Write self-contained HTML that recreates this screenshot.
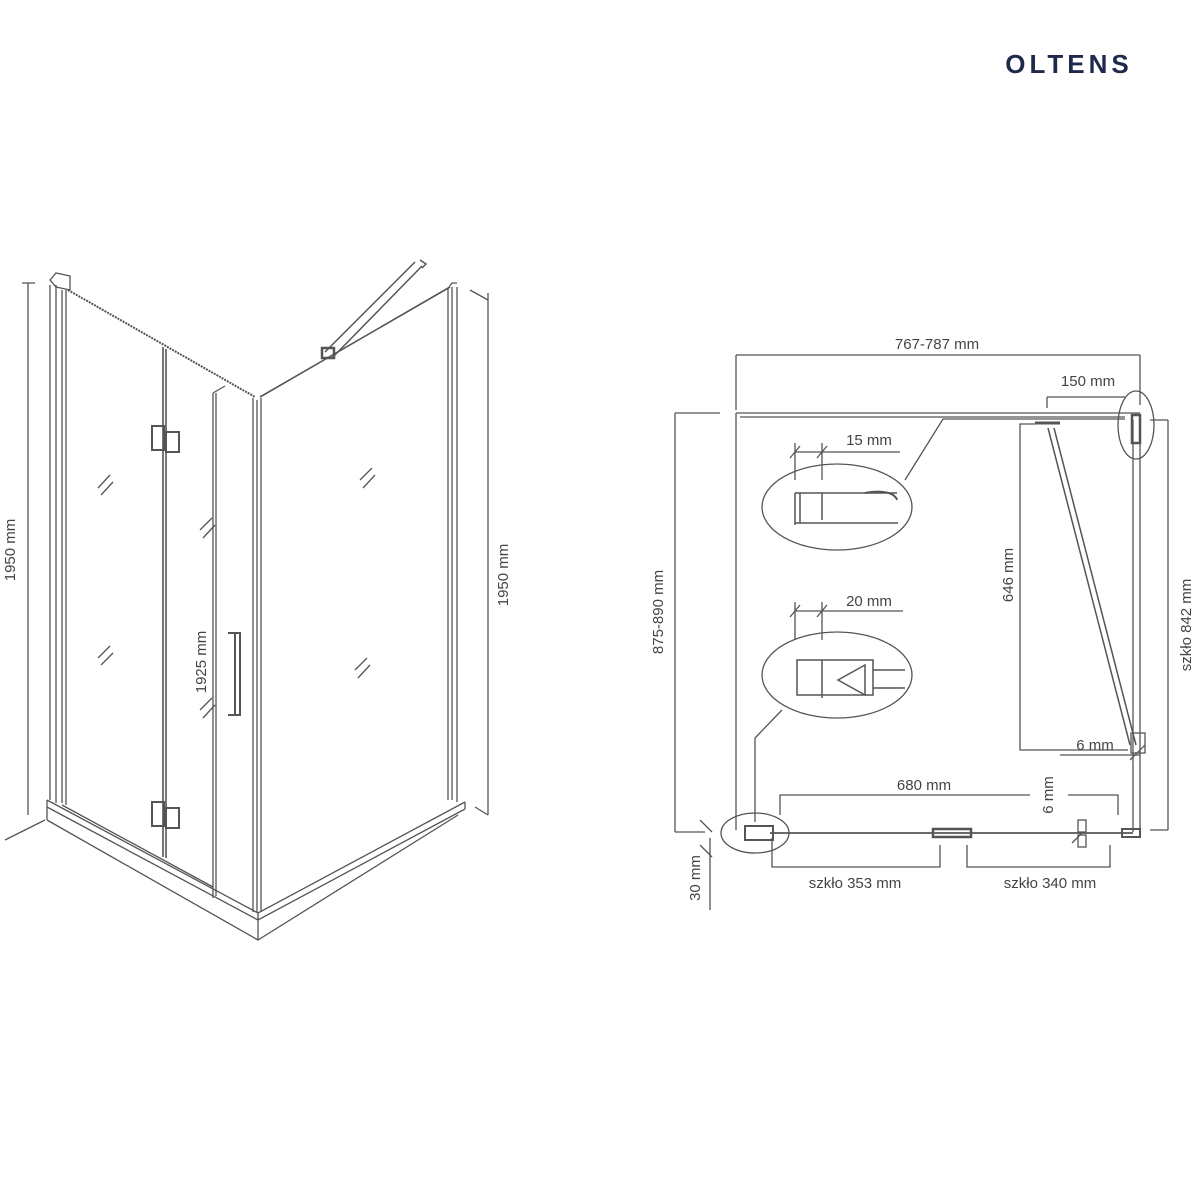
<!DOCTYPE html>
<html><head><meta charset="utf-8"><style>
html,body{margin:0;padding:0;background:#fff}
svg{display:block}
text{font-family:"Liberation Sans",sans-serif;fill:#444;font-size:15px}
</style></head><body>
<svg width="1200" height="1200" viewBox="0 0 1200 1200" xmlns="http://www.w3.org/2000/svg">
<rect width="1200" height="1200" fill="#fff"/>
<text x="1069" y="73" text-anchor="middle" style="font-size:26px;font-weight:bold;fill:#1f2a4a;letter-spacing:4px">OLTENS</text>
<g stroke="#555" stroke-width="1.3" fill="none">
<path d="M50 285V800 M56 285V803 M62 290V803 M66 290V805"/>
<path d="M50 280L56 273L70 276L70 290L56 287Z"/>
<path d="M68 290L255 397" stroke-width="2" stroke-dasharray="2 1"/>
<path d="M260 397L450 287" stroke-width="1.6"/>
<path d="M163 347V857 M166 349V858" stroke-width="1.6"/>
<path d="M213 393L225 386 M213 393V898 M216 393V896"/>
<path d="M253 398V912 M257 400V912 M261 398V912"/>
<path d="M448 288V800 M452 287V800 M457 287V802 M449 287L452 283L457 283"/>
<path d="M325 352L415 262 M332 358L422 266 M420 260L426 264L422 268" stroke-width="1.5"/>
<rect x="322" y="348" width="12" height="10" stroke-width="2.5"/>
<rect x="152" y="426" width="12" height="24" stroke-width="2"/><rect x="166" y="432" width="13" height="20" stroke-width="2"/>
<rect x="152" y="802" width="12" height="24" stroke-width="2"/><rect x="166" y="808" width="13" height="20" stroke-width="2"/>
<path d="M228 633H240V715H228 M235 633V715" stroke-width="2"/>
<path d="M98 488L110 475 M101 495L113 482 M98 658L110 646 M101 665L113 653 M200 530L212 518 M203 538L215 525 M200 710L212 698 M203 718L215 705 M360 480L372 468 M363 488L375 475 M355 670L367 658 M358 678L370 665"/>
<path d="M47 800L258 913L465 802 M47 807L258 920L465 809 M47 820L258 940L458 815 M47 800V820 M258 913V940 M465 802V809 M62 805L213 887"/>
<path d="M28 283V815 M22 283H35 M5 840L45 820 M475 807L488 815 M488 293V815 M470 290L488 300"/>
</g>
<text transform="translate(15 550) rotate(-90)" text-anchor="middle">1950 mm</text>
<text transform="translate(508 575) rotate(-90)" text-anchor="middle">1950 mm</text>
<text transform="translate(206 662) rotate(-90)" text-anchor="middle">1925 mm</text>

<g stroke="#555" stroke-width="1.3" fill="none">
<path d="M736 355H1140 M736 355V410 M1140 355V405"/>
<path d="M736 413V830 M736 413H1140 M740 417H1125"/>
<path d="M675 413H720 M675 413V832 M675 832H705"/>
<path d="M1133 420V832 M1140 420V832"/>
<path d="M770 833H1133" stroke-width="1.8"/>
<path d="M1047 397H1125 M1047 397V408"/>
<ellipse cx="1136" cy="425" rx="18" ry="34"/>
<rect x="1132" y="415" width="8" height="28" stroke-width="2.5"/>
<path d="M1048 428L1130 745 M1054 428L1136 745" stroke-width="1.5"/>
<path d="M1035 423H1060" stroke-width="3"/>
<path d="M1035 424H1020V750H1128"/>
<rect x="1131" y="733" width="14" height="20"/>
<path d="M1060 755H1140 M1168 420V830 M1150 420H1168 M1150 830H1168"/>
<path d="M780 815V795H1030 M1068 795H1118V815"/>
<path d="M772 838V867H940V845 M967 845V867H1110V845"/>
<rect x="933" y="829" width="38" height="8" stroke-width="2.5"/>
<rect x="1078" y="820" width="8" height="12"/><rect x="1078" y="835" width="8" height="12"/>
<rect x="1122" y="829" width="18" height="8" stroke-width="2"/>
<ellipse cx="755" cy="833" rx="34" ry="20"/>
<rect x="745" y="826" width="28" height="14" stroke-width="2"/>
<path d="M710 838V910 M700 820L712 832 M700 845L712 857"/>
<ellipse cx="837" cy="507" rx="75" ry="43"/>
<ellipse cx="837" cy="675" rx="75" ry="43"/>
<path d="M905 480L943 419H1125"/>
<path d="M782 710L755 738V822"/>
<path d="M795 443V480 M822 443V480 M795 452H900 M790 458L800 446 M817 458L827 446"/>
<path d="M795 493H897 M795 493V525 M822 493V520 M795 523H898 M800 493V523" stroke-width="1.5"/>
<path d="M865 493C880 490 895 492 897 500" stroke-width="2"/>
<path d="M795 602V640 M822 602V640 M795 611H903 M790 617L800 605 M817 617L827 605"/>
<path d="M797 660H873V695H797Z M822 660V698 M838 680L865 665L865 695Z M873 670H905 M873 688H905" stroke-width="1.5"/>
<path d="M1130 760L1145 745 M1072 843L1083 832"/>
</g>
<text x="937" y="349" text-anchor="middle">767-787 mm</text>
<text x="1088" y="386" text-anchor="middle">150 mm</text>
<text x="869" y="445" text-anchor="middle">15 mm</text>
<text x="869" y="606" text-anchor="middle">20 mm</text>
<text transform="translate(663 612) rotate(-90)" text-anchor="middle">875-890 mm</text>
<text transform="translate(1013 575) rotate(-90)" text-anchor="middle">646 mm</text>
<text transform="translate(1191 625) rotate(-90)" text-anchor="middle">szkło 842 mm</text>
<text x="1095" y="750" text-anchor="middle">6 mm</text>
<text x="924" y="790" text-anchor="middle">680 mm</text>
<text transform="translate(1053 795) rotate(-90)" text-anchor="middle">6 mm</text>
<text x="855" y="888" text-anchor="middle">szkło 353 mm</text>
<text x="1050" y="888" text-anchor="middle">szkło 340 mm</text>
<text transform="translate(700 878) rotate(-90)" text-anchor="middle">30 mm</text>
</svg>
</body></html>
